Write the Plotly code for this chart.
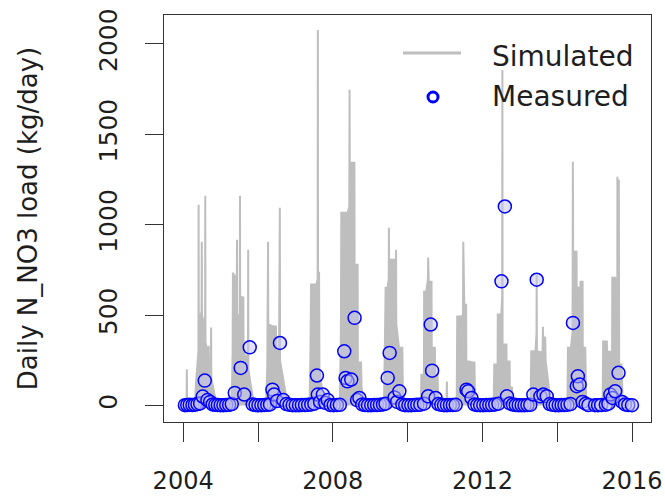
import plotly.graph_objects as go

# ---------------- data ----------------
sim_dates = [
    # 2004
    "2004-01-01", "2004-02-01", "2004-02-04", "2004-02-06", "2004-02-08", "2004-02-20",
    "2004-04-25", "2004-05-05", "2004-05-20", "2004-05-29", "2004-05-31", "2004-06-02",
    "2004-06-20", "2004-06-29", "2004-07-01", "2004-07-03", "2004-07-25", "2004-08-02",
    "2004-08-04", "2004-08-06", "2004-08-25", "2004-09-04", "2004-09-06", "2004-09-10",
    "2004-09-28", "2004-09-30", "2004-10-02", "2004-10-20", "2004-11-05", "2004-11-20",
    # 2005
    "2005-01-01", "2005-04-05", "2005-04-20", "2005-04-28", "2005-05-01", "2005-05-25",
    "2005-06-08", "2005-06-10", "2005-06-12", "2005-07-07", "2005-07-09", "2005-07-11",
    "2005-07-24", "2005-08-11", "2005-08-13", "2005-09-10", "2005-09-25", "2005-09-27",
    "2005-09-29", "2005-10-20", "2005-11-10", "2005-11-25",
    # 2006
    "2006-01-01", "2006-03-20", "2006-04-01", "2006-04-07", "2006-04-09", "2006-04-11",
    "2006-05-15", "2006-06-25", "2006-06-28", "2006-07-25", "2006-08-02", "2006-08-04",
    "2006-08-25", "2006-09-10", "2006-09-30", "2006-10-15",
    # 2007
    "2007-01-01", "2007-05-20", "2007-05-28", "2007-06-03", "2007-07-25", "2007-08-06",
    "2007-08-08", "2007-08-10", "2007-08-20", "2007-08-24", "2007-09-10", "2007-09-30",
    "2007-10-15",
    # 2008
    "2008-01-01", "2008-03-10", "2008-03-20", "2008-03-24", "2008-05-25", "2008-06-10",
    "2008-06-13", "2008-06-15", "2008-07-30", "2008-08-01", "2008-08-31", "2008-09-02",
    "2008-10-03", "2008-10-08", "2008-10-25", "2008-11-10",
    # 2009
    "2009-01-01", "2009-05-15", "2009-05-25", "2009-05-31", "2009-06-19", "2009-06-30",
    "2009-07-02", "2009-07-04", "2009-07-24", "2009-08-22", "2009-08-24", "2009-09-08",
    "2009-09-10", "2009-09-12", "2009-10-08", "2009-11-10", "2009-11-15", "2009-11-30",
    # 2010
    "2010-01-01", "2010-05-10", "2010-05-15", "2010-06-09", "2010-06-11", "2010-07-01",
    "2010-07-18", "2010-07-20", "2010-07-26", "2010-08-22", "2010-08-24", "2010-09-24",
    "2010-09-26", "2010-10-20", "2010-10-25", "2010-11-10",
    # 2011
    "2011-01-01", "2011-01-15", "2011-01-19", "2011-01-23", "2011-02-10", "2011-04-25",
    "2011-04-30", "2011-06-02", "2011-06-25", "2011-06-28", "2011-07-08", "2011-07-26",
    "2011-07-28", "2011-08-28", "2011-09-20", "2011-10-15", "2011-10-20", "2011-11-05",
    # 2012
    "2012-01-01", "2012-04-20", "2012-04-26", "2012-05-28", "2012-05-30", "2012-07-03",
    "2012-07-12", "2012-07-14", "2012-07-16", "2012-08-22", "2012-08-24", "2012-09-23",
    "2012-09-25", "2012-10-15", "2012-10-25", "2012-11-10",
    # 2013
    "2013-01-01", "2013-04-15", "2013-04-22", "2013-06-02", "2013-06-12", "2013-06-14",
    "2013-06-16", "2013-08-10", "2013-08-14", "2013-08-18", "2013-09-05", "2013-09-09",
    "2013-10-10", "2013-10-20",
    # 2014
    "2014-01-01", "2014-04-10", "2014-04-15", "2014-05-14", "2014-05-30", "2014-06-02",
    "2014-06-05", "2014-07-08", "2014-07-10", "2014-08-14", "2014-08-16", "2014-09-05",
    "2014-09-07", "2014-10-01", "2014-10-10", "2014-10-25",
    # 2015
    "2015-01-01", "2015-03-20", "2015-03-25", "2015-04-30", "2015-05-02", "2015-06-20",
    "2015-06-22", "2015-07-20", "2015-08-10", "2015-08-11", "2015-08-14", "2015-08-23",
    "2015-08-25", "2015-08-28", "2015-09-20", "2015-10-01", "2015-10-15", "2015-12-31",
]
sim_values = [
    # 2004
    5, 8, 60, 200, 40, 8,
    10, 120, 250, 300, 1110, 350,
    500, 520, 906, 500, 450, 450,
    1160, 350, 300, 250, 330, 200,
    250, 431, 150, 100, 40, 8,
    # 2005
    5, 10, 20, 300, 735, 700,
    730, 917, 500, 500, 1160, 450,
    600, 597, 300, 250, 300, 862,
    200, 120, 40, 8,
    # 2006
    5, 10, 200, 500, 906, 450,
    440, 436, 300, 300, 1094, 250,
    180, 120, 40, 8,
    # 2007
    5, 10, 300, 669, 669, 700,
    2077, 735, 735, 200, 120, 40,
    8,
    # 2008
    5, 10, 400, 1066, 1066, 1100,
    1746, 1343, 1343, 779, 779, 238,
    238, 100, 20, 5,
    # 2009
    5, 10, 400, 652, 652, 700,
    983, 807, 807, 807, 500, 500,
    862, 450, 320, 320, 80, 10,
    # 2010
    5, 10, 171, 171, 630, 630,
    700, 818, 685, 685, 320, 320,
    171, 171, 40, 5,
    # 2011
    5, 30, 133, 30, 5, 10,
    492, 492, 500, 906, 558, 558,
    243, 243, 238, 238, 60, 5,
    # 2012
    5, 10, 227, 227, 503, 503,
    600, 1856, 337, 337, 243, 243,
    100, 100, 20, 5,
    # 2013
    5, 10, 300, 300, 400, 724,
    300, 293, 436, 293, 381, 250,
    100, 10,
    # 2014
    5, 10, 320, 320, 400, 1348,
    851, 851, 652, 652, 685, 685,
    320, 320, 40, 5,
    # 2015
    5, 10, 354, 354, 298, 298,
    707, 707, 600, 1265, 500, 600,
    1249, 227, 227, 40, 5, 5,
]

meas_dates = [
    "2004-01-18", "2004-02-10", "2004-03-05", "2004-04-01", "2004-04-25", "2004-05-20",
    "2004-06-15", "2004-07-10", "2004-07-30", "2004-08-25", "2004-09-20", "2004-10-15",
    "2004-11-10", "2004-12-05",
    "2005-01-01", "2005-01-28", "2005-02-25", "2005-03-25", "2005-04-20", "2005-05-19",
    "2005-07-16", "2005-08-19", "2005-10-12", "2005-11-10", "2005-12-08",
    "2006-01-05", "2006-02-03", "2006-03-03", "2006-04-01", "2006-04-28", "2006-05-22",
    "2006-06-07", "2006-07-05", "2006-08-03", "2006-09-05", "2006-10-05", "2006-11-05",
    "2006-12-05",
    "2007-01-05", "2007-02-05", "2007-03-05", "2007-04-05", "2007-05-05", "2007-06-05",
    "2007-07-05", "2007-07-30", "2007-08-08", "2007-08-30", "2007-09-26", "2007-10-20",
    "2007-11-13", "2007-12-10",
    "2008-01-10", "2008-02-10", "2008-03-10", "2008-04-22", "2008-05-05", "2008-05-23",
    "2008-06-29", "2008-08-01", "2008-08-25", "2008-09-17", "2008-10-15", "2008-11-12",
    "2008-12-10",
    "2009-01-10", "2009-02-08", "2009-03-08", "2009-04-05", "2009-05-05", "2009-05-30",
    "2009-06-20", "2009-07-09", "2009-08-26", "2009-09-20", "2009-10-12", "2009-11-10",
    "2009-12-08",
    "2010-01-08", "2010-02-05", "2010-03-08", "2010-04-05", "2010-05-05", "2010-06-10",
    "2010-07-20", "2010-08-14", "2010-08-28", "2010-10-01", "2010-10-28", "2010-11-25",
    "2010-12-22",
    "2011-01-20", "2011-02-18", "2011-03-18", "2011-04-15", "2011-07-30", "2011-08-15",
    "2011-09-16", "2011-10-15", "2011-11-12", "2011-12-10",
    "2012-01-10", "2012-02-08", "2012-03-08", "2012-04-05", "2012-05-05", "2012-06-05",
    "2012-07-05", "2012-08-07", "2012-08-28", "2012-09-25", "2012-10-25", "2012-11-22",
    "2012-12-20",
    "2013-01-18", "2013-02-15", "2013-03-15", "2013-04-12", "2013-05-12", "2013-06-14",
    "2013-07-20", "2013-08-18", "2013-09-20", "2013-10-20", "2013-11-18", "2013-12-15",
    "2014-01-15", "2014-02-12", "2014-03-12", "2014-04-10", "2014-05-10", "2014-06-03",
    "2014-07-10", "2014-07-21", "2014-08-07", "2014-09-05", "2014-10-05", "2014-11-01",
    "2015-01-05", "2015-02-03", "2015-03-05", "2015-04-20", "2015-05-15", "2015-06-03",
    "2015-06-25", "2015-07-20", "2015-08-22", "2015-09-25", "2015-10-25", "2015-11-25",
    "2015-12-31",
]
meas_values = [
    2, 3, 4, 3, 5, 8,
    12, 50, 138, 30, 20, 6,
    4, 3,
    2, 2, 3, 4, 8, 70,
    208, 61, 322, 6, 3,
    2, 2, 3, 4, 6, 88,
    61, 25, 346, 30, 8, 4,
    2,
    2, 2, 3, 3, 4, 6,
    10, 166, 61, 20, 61, 15,
    30, 3,
    2, 3, 4, 300, 153, 134,
    144, 485, 30, 42, 6, 3,
    2,
    2, 3, 3, 4, 6, 10,
    153, 291, 44, 20, 79, 6,
    2,
    2, 2, 3, 4, 5, 10,
    51, 448, 193, 42, 8, 4,
    2,
    2, 3, 3, 4, 88, 79,
    42, 6, 3, 2,
    2, 3, 3, 4, 6, 10,
    687, 1101, 51, 12, 6, 3,
    2,
    2, 2, 3, 4, 61, 696,
    51, 61, 51, 8, 4, 2,
    2, 3, 3, 4, 8, 457,
    107, 162, 116, 20, 10, 3,
    2, 2, 3, 5, 10, 61,
    42, 79, 181, 20, 6, 3,
    2,
]

x_tick_vals = ["2004-01-01", "2006-01-01", "2008-01-01", "2010-01-01",
               "2012-01-01", "2014-01-01", "2016-01-01"]
x_tick_text = ["2004", "", "2008", "", "2012", "", "2016"]
y_tick_vals = [0, 500, 1000, 1500, 2000]
y_tick_text = ["0", "500", "1000", "1500", "2000"]

legend_labels = ["Simulated", "Measured"]

# ---------------- figure ----------------
GRAY = "#bebebe"
BLUE = "#0000ff"
FONT = "DejaVu Sans"
TXT = "#1e1e1e"

fig = go.Figure()
fig.add_trace(go.Scatter(
    x=sim_dates, y=sim_values, mode="lines", name=legend_labels[0],
    line=dict(color=GRAY, width=2), fill="tozeroy", fillcolor=GRAY,
    showlegend=False, hoverinfo="x+y",
))
fig.add_trace(go.Scatter(
    x=meas_dates, y=meas_values, mode="markers", name=legend_labels[1],
    marker=dict(symbol="circle", size=13, color="rgba(195,195,242,0.5)",
                line=dict(color=BLUE, width=1.5)),
    showlegend=False,
))

W, H = 665, 497
L, R, T, B = 164, 14, 15, 75
pw, ph = W - L - R, H - T - B

def px(x):
    return (x - L) / pw

def py(y):
    return (H - B - y) / ph

# custom legend (R style, no box)
fig.add_shape(type="line", xref="paper", yref="paper",
              x0=px(403), x1=px(461), y0=py(53), y1=py(53),
              line=dict(color=GRAY, width=3))
fig.add_shape(type="circle", xref="paper", yref="paper",
              xsizemode="pixel", ysizemode="pixel",
              xanchor=px(433), yanchor=py(97),
              x0=-5, x1=5, y0=-5, y1=5,
              line=dict(color=BLUE, width=3), fillcolor="white")
fig.add_annotation(xref="paper", yref="paper", x=px(490), y=py(56),
                   text=legend_labels[0], showarrow=False,
                   xanchor="left", yanchor="middle",
                   font=dict(family=FONT, size=28, color=TXT))
fig.add_annotation(xref="paper", yref="paper", x=px(490), y=py(96),
                   text=legend_labels[1], showarrow=False,
                   xanchor="left", yanchor="middle",
                   font=dict(family=FONT, size=28, color=TXT))

fig.update_layout(
    width=W, height=H,
    margin=dict(l=L, r=R, t=T, b=B, pad=0, autoexpand=False),
    paper_bgcolor="white", plot_bgcolor="white",
    font=dict(family=FONT, color=TXT),
    showlegend=False,
)
fig.update_xaxes(
    type="date", range=["2003-06-28", "2016-07-04"], automargin=False,
    tickmode="array", tickvals=x_tick_vals, ticktext=x_tick_text,
    ticks="outside", ticklen=19, tickwidth=1, tickcolor="#333",
    showline=True, mirror=True, linecolor="#333", linewidth=1.2,
    showgrid=False, zeroline=False,
    tickfont=dict(family=FONT, size=24, color=TXT),
    ticklabelstandoff=18,
)
fig.update_yaxes(
    range=[-91, 2160], automargin=False,
    tickmode="array", tickvals=y_tick_vals, ticktext=y_tick_text,
    ticks="outside", ticklen=18, tickwidth=1, tickcolor="#333",
    showline=True, mirror=True, linecolor="#333", linewidth=1.2,
    showgrid=False, zeroline=False, tickangle=-90,
    tickfont=dict(family=FONT, size=25, color=TXT),
    ticklabelstandoff=18,
    title=dict(text="Daily N_NO3 load (kg/day)", standoff=48,
               font=dict(family=FONT, size=26, color=TXT)),
)

fig.write_html("out.html")
